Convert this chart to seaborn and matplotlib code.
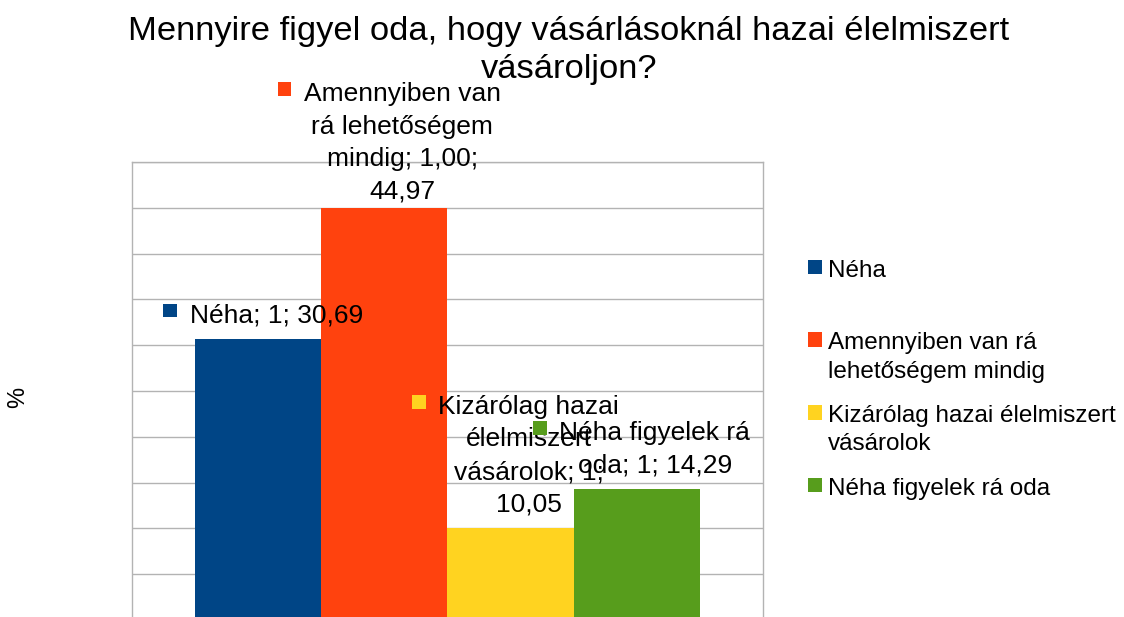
import pandas as pd
import matplotlib
matplotlib.use("Agg")
import matplotlib.pyplot as plt
import seaborn as sns
from matplotlib.offsetbox import TextArea, DrawingArea, HPacker, AnnotationBbox
from matplotlib.patches import Rectangle

# adatok
categories = ["Néha", "Amennyiben van rá lehetőségem mindig",
              "Kizárólag hazai élelmiszert vásárolok", "Néha figyelek rá oda"]
values = [30.69, 44.97, 10.05, 14.29]
group = ["1", "1", "1", "1"]
bar_labels = ["Néha; 1; 30,69",
              "Amennyiben van\nrá lehetőségem\nmindig; 1,00;\n44,97",
              "Kizárólag hazai\nélelmiszert\nvásárolok; 1;\n10,05",
              "Néha figyelek rá\noda; 1; 14,29"]
legend_labels = ["Néha\n",
                 "Amennyiben van rá\nlehetőségem mindig",
                 "Kizárólag hazai élelmiszert\nvásárolok",
                 "Néha figyelek rá oda"]
colors = ["#004586", "#ff420e", "#ffd320", "#579d1c"]

df = pd.DataFrame({"group": group, "category": categories, "value": values})

sns.set_style("white")
plt.rcParams["font.family"] = ["Liberation Sans", "DejaVu Sans"]
plt.rcParams["text.color"] = "black"
plt.rcParams["axes.labelcolor"] = "black"

fig = plt.figure(figsize=(11.24, 6.17), dpi=100)
ax = fig.add_axes([0.1174, -0.0049, 0.5614, 0.7423])

sns.barplot(data=df, x="group", y="value", hue="category", palette=colors,
            hue_order=categories, saturation=1, width=0.8, linewidth=0,
            ax=ax, legend=False)

ax.set_ylim(0, 50)
ax.set_xlim(-0.5, 0.5)
ax.set_yticks(range(0, 51, 5))
ax.set_yticklabels([])
ax.set_xticks([])
ax.set_xlabel("")
ax.tick_params(length=0)
ax.grid(axis="y", color="#b3b3b3", linewidth=1)
ax.set_axisbelow(True)
for s in ax.spines.values():
    s.set_color("#b3b3b3")
    s.set_linewidth(1)

ax.set_ylabel("%", fontsize=17)
ax.yaxis.set_label_coords(-0.163, 0.487)

# adatfeliratok (a legmagasabb oszlop felirata közelebb ül)
label_dy = [8.2, 3.2, 8.2, 8.2]
for bars, lab, col, dy in zip(ax.containers, bar_labels, colors, label_dy):
    p = bars.patches[0]
    sq = DrawingArea(10, 10, 0, 0)
    sq.add_artist(Rectangle((0, 0), 10, 10, facecolor=col, edgecolor="none"))
    txt = TextArea(lab, textprops=dict(fontsize=19, multialignment="center",
                                       linespacing=1.45, color="black"))
    box = HPacker(children=[sq, txt], align="top", pad=0, sep=9)
    ab = AnnotationBbox(box, (p.get_x() + p.get_width() / 2, p.get_height()),
                        xybox=(3.5, dy), boxcoords="offset points",
                        box_alignment=(0.5, 0), frameon=False,
                        annotation_clip=False)
    ax.add_artist(ab)

# jelmagyarázat
handles = [Rectangle((0, 0), 1, 1, facecolor=c, edgecolor="none") for c in colors]
leg = fig.legend(handles, legend_labels, loc="upper left",
                 bbox_to_anchor=(0.719, 0.579), frameon=False, fontsize=17.5,
                 handlelength=0.55, handleheight=0.55, handletextpad=0.25,
                 borderpad=0, borderaxespad=0, labelspacing=0.92)
for t in leg.get_texts():
    t.set_linespacing(1.37)
    t.set_color("black")
for hp in leg._legend_handle_box.get_children()[0].get_children():
    hp.align = "top"

fig.text(0.506, 0.974, "Mennyire figyel oda, hogy vásárlásoknál hazai élelmiszert\nvásároljon?",
         ha="center", va="top", fontsize=24.8, linespacing=1.29, color="black")

fig.savefig("out.png", dpi=100)
